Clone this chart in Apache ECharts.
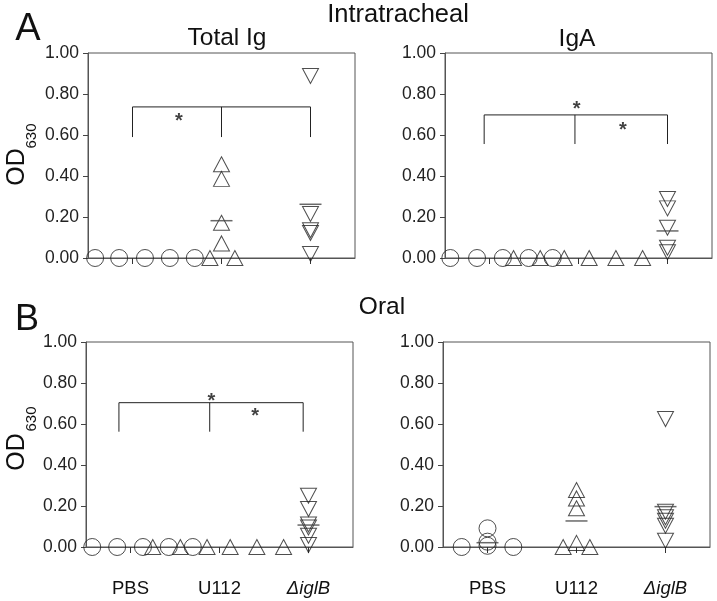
<!DOCTYPE html>
<html>
<head>
<meta charset="utf-8">
<script src="https://cdn.jsdelivr.net/npm/echarts@6/dist/echarts.min.js"></script>
<style>
  html, body { margin: 0; padding: 0; background: #fff; }
  #main { width: 717px; height: 601px; }
</style>
</head>
<body>
<div id="main"></div>
<script>
// categories on the x axis (0, 1, 2)
const groups = ['PBS', 'U112', 'ΔiglB']

// points are [x position incl. jitter, OD630]
// A - intratracheal, total Ig
const itTotalPbs = [[-0.42, 0], [-0.15, 0], [0.14, 0], [0.42, 0], [0.7, 0]]
const itTotalU112 = [[0.87, 0], [1.0, 0.457], [1.0, 0.386], [1.0, 0.172], [1.0, 0.071], [1.15, 0]]
const itTotalIglb = [[2.0, 0.888], [2.0, 0.215], [2.0, 0.135], [2.0, 0.122], [2.0, 0.02]]
const itTotalMeans = [[1.0, 0.182], [2.0, 0.262]]

// A - intratracheal, IgA
const itIgaPbs = [[-0.44, 0], [-0.14, 0], [0.15, 0], [0.44, 0], [0.71, 0]]
const itIgaU112 = [[0.27, 0], [0.57, 0], [0.84, 0], [1.12, 0], [1.42, 0], [1.72, 0]]
const itIgaIglb = [[2.0, 0.288], [2.0, 0.242], [2.0, 0.148], [2.0, 0.05], [2.0, 0.028]]
const itIgaMeans = [[2.0, 0.132]]

// B - oral, total Ig
const orTotalPbs = [[-0.43, 0], [-0.15, 0], [0.14, 0], [0.43, 0], [0.7, 0]]
const orTotalU112 = [[0.25, 0], [0.56, 0], [0.86, 0], [1.12, 0], [1.42, 0], [1.72, 0]]
const orTotalIglb = [[2.0, 0.25], [2.0, 0.185], [2.0, 0.11], [2.0, 0.095], [2.0, 0.055], [2.0, 0.01]]
const orTotalMeans = [[2.0, 0.107]]

// B - oral, IgA
const orIgaPbs = [[-0.29, 0], [0.0, 0.091], [0.0, 0.026], [0.0, 0.006], [0.29, 0]]
const orIgaU112 = [[0.85, 0], [1.0, 0.278], [1.0, 0.237], [1.0, 0.189], [1.0, 0.02], [1.15, 0]]
const orIgaIglb = [[2.0, 0.624], [2.0, 0.172], [2.0, 0.145], [2.0, 0.128], [2.0, 0.104], [2.0, 0.031]]
const orIgaMeans = [[0.0, 0.021], [1.0, 0.127], [2.0, 0.197]]

// significance brackets: leg x positions, [leg bottom, bar]
const itTotalBracketX = [0, 1, 2]
const itTotalBracketY = [0.59, 0.737]
const itTotalStars = [[0.52, 0.688]]
const itIgaBracketX = [-0.06, 0.96, 2.0]
const itIgaBracketY = [0.556, 0.698]
const itIgaStars = [[0.98, 0.751], [1.5, 0.644]]
const orTotalBracketX = [-0.13, 0.89, 1.94]
const orTotalBracketY = [0.5625, 0.704]
const orTotalStars = [[0.91, 0.733], [1.4, 0.66]]

const panels = [
  { grid: { left: 88, top: 53 }, pbs: itTotalPbs, u112: itTotalU112, iglb: itTotalIglb, means: itTotalMeans, bx: itTotalBracketX, by: itTotalBracketY, stars: itTotalStars, labels: false },
  { grid: { left: 445, top: 53 }, pbs: itIgaPbs, u112: itIgaU112, iglb: itIgaIglb, means: itIgaMeans, bx: itIgaBracketX, by: itIgaBracketY, stars: itIgaStars, labels: false },
  { grid: { left: 86, top: 342 }, pbs: orTotalPbs, u112: orTotalU112, iglb: orTotalIglb, means: orTotalMeans, bx: orTotalBracketX, by: orTotalBracketY, stars: orTotalStars, labels: true },
  { grid: { left: 443, top: 342 }, pbs: orIgaPbs, u112: orIgaU112, iglb: orIgaIglb, means: orIgaMeans, bx: null, by: null, stars: [], labels: true }
]

const ink = '#222'
const hollow = { color: 'rgba(0,0,0,0)', borderColor: ink, borderWidth: 1 }

const grids = []
const xAxes = []
const yAxes = []
const series = []

panels.forEach((p, i) => {
  grids.push({
    left: p.grid.left, top: p.grid.top, width: 267, height: 205,
    show: true, borderColor: '#555', borderWidth: 1, backgroundColor: 'transparent'
  })
  xAxes.push({
    gridIndex: i, type: 'value', min: -0.5, max: 2.5,
    axisLine: { show: true, onZero: false, lineStyle: { color: '#555' } },
    axisTick: { show: true, customValues: [0, 1, 2], length: 6, lineStyle: { color: '#333' } },
    axisLabel: {
      show: p.labels, customValues: [0, 1, 2], margin: 32, fontSize: 18.5, color: '#111',
      formatter: (v) => (v === 2 ? '{i|' + groups[2] + '}' : groups[Math.round(v)]),
      rich: { i: { fontStyle: 'italic', fontSize: 18.5, color: '#111' } }
    },
    splitLine: { show: false }
  })
  yAxes.push({
    gridIndex: i, type: 'value', min: 0, max: 1, interval: 0.2,
    axisLine: { show: true, onZero: false, lineStyle: { color: '#555' } },
    axisTick: { show: true, length: 5, lineStyle: { color: '#444' } },
    axisLabel: { fontSize: 17.5, color: '#222', margin: 9, formatter: (v) => v.toFixed(2) },
    splitLine: { show: false }
  })
  const base = { xAxisIndex: i, yAxisIndex: i, silent: true, animation: false }
  series.push({ ...base, type: 'scatter', symbol: 'circle', symbolSize: 17, itemStyle: hollow, data: p.pbs })
  series.push({ ...base, type: 'scatter', symbol: 'triangle', symbolSize: [16, 15], itemStyle: hollow, data: p.u112 })
  series.push({ ...base, type: 'scatter', symbol: 'triangle', symbolRotate: 180, symbolSize: [16, 15], itemStyle: hollow, data: p.iglb })
  series.push({ ...base, type: 'scatter', symbol: 'rect', symbolSize: [22, 1.5], itemStyle: { color: '#444' }, data: p.means })
  if (p.bx) {
    const [lo, hi] = p.by
    series.push({ ...base, type: 'line', symbol: 'none', lineStyle: { color: ink, width: 1 },
      data: [[p.bx[0], lo], [p.bx[0], hi], [p.bx[2], hi], [p.bx[2], lo]] })
    series.push({ ...base, type: 'line', symbol: 'none', lineStyle: { color: ink, width: 1 },
      data: [[p.bx[1], hi], [p.bx[1], lo]] })
  }
  if (p.stars.length) {
    series.push({ ...base, type: 'scatter', symbolSize: 0, data: p.stars,
      label: { show: true, position: 'inside', formatter: '*', fontSize: 20, fontWeight: 'bold', color: '#111', offset: [0, 5] } })
  }
})

const txt = (x, y, text, size, rot) => ({
  type: 'text', x, y, rotation: rot || 0, silent: true,
  style: { text, fontSize: size, fill: '#111', align: 'center', verticalAlign: 'middle', fontFamily: 'Liberation Sans' }
})

const chart = echarts.init(document.getElementById('main'), null, { renderer: 'canvas' })
chart.setOption({
  animation: false,
  textStyle: { fontFamily: 'Liberation Sans' },
  grid: grids,
  xAxis: xAxes,
  yAxis: yAxes,
  series,
  graphic: [
    txt(398, 15, 'Intratracheal', 25.5),
    txt(227, 38, 'Total Ig', 24.5),
    txt(577, 39, 'IgA', 24.5),
    txt(28, 30, 'A', 38),
    txt(382, 307, 'Oral', 24.5),
    txt(27, 320, 'B', 36),
    txt(17, 167, 'OD', 25, Math.PI / 2),
    txt(32, 136, '630', 15, Math.PI / 2),
    txt(17, 452, 'OD', 25, Math.PI / 2),
    txt(32, 419, '630', 15, Math.PI / 2)
  ]
})
</script>
</body>
</html>
